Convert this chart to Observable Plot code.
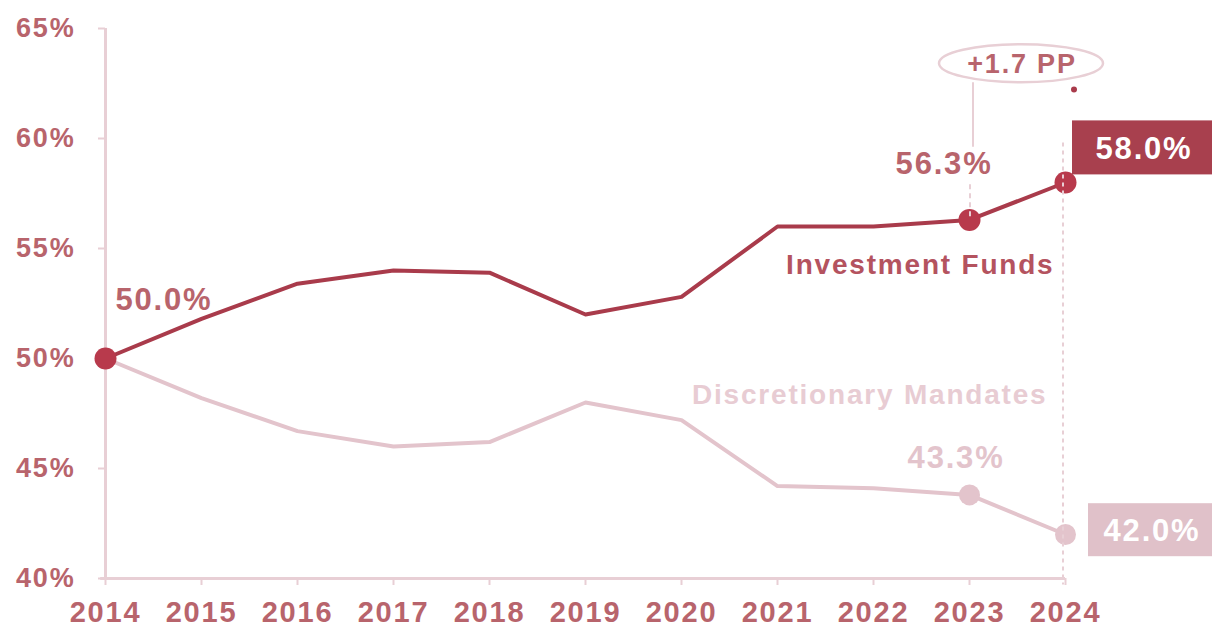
<!DOCTYPE html>
<html><head><meta charset="utf-8">
<script src="https://cdn.jsdelivr.net/npm/d3@7"></script>
<script src="https://cdn.jsdelivr.net/npm/@observablehq/plot@0.6"></script>
<style>
html,body{margin:0;padding:0;background:#fff;}
svg{font-family:"Liberation Sans",Arial,sans-serif;font-weight:bold;}
svg text{letter-spacing:1.8px;}
</style></head>
<body><div id="chart"></div>
<script>
const years = [2014,2015,2016,2017,2018,2019,2020,2021,2022,2023,2024];
const investmentFunds = [50.0,51.8,53.4,54.0,53.9,52.0,52.8,56.0,56.0,56.3,58.0];
const discretionaryMandates = [50.0,48.2,46.7,46.0,46.2,48.0,47.2,44.2,44.1,43.8,42.0];
const yTicks = [40,45,50,55,60,65];
const seriesNames = ["Investment Funds","Discretionary Mandates"];
const highlightYears = [2014,2023,2024];
const fundLabels = ["50.0%","56.3%","58.0%"];
const mandateLabels = ["43.3%","42.0%"];
const deltaLabel = "+1.7 PP";

const DARK = "#a93b4b", LIGHT = "#e3c4cc", AXIS = "#e8cfd5", TXT = "#b8646c";

const fund = years.map((y,i)=>({year:y, v:investmentFunds[i]}));
const mand = years.map((y,i)=>({year:y, v:discretionaryMandates[i]}));
const fundHi = fund.filter(d=>highlightYears.includes(d.year));
const mandHi = mand.filter(d=>d.year>=2023);

const overlay = (index, {x, y}) => {
  const g = d3.create("svg:g");
  const x23 = x(2023), x24 = x(2024);
  // ellipse annotation
  const ecx = (x23+x24)/2 + 4, ecy = y(63.4);
  g.append("ellipse").attr("cx",ecx).attr("cy",ecy).attr("rx",82).attr("ry",19)
    .attr("fill","none").attr("stroke",AXIS).attr("stroke-width",2.5);
  g.append("text").attr("x",ecx+1).attr("y",ecy).attr("dy","0.36em").attr("text-anchor","middle")
    .attr("fill",TXT).attr("font-size",27).text(deltaLabel);
  g.append("line").attr("x1",x23+4).attr("x2",x23+4).attr("y1",ecy+19).attr("y2",y(59.6))
    .attr("stroke",AXIS).attr("stroke-width",2);
  // 2023 dashed (label to point)
  g.append("line").attr("x1",x23+1).attr("x2",x23+1).attr("y1",y(57.9)).attr("y2",y(56.3))
    .attr("stroke",AXIS).attr("stroke-width",2).attr("stroke-dasharray","5,4");
  // 2024 dotted
  g.append("line").attr("x1",x24-2).attr("x2",x24-2).attr("y1",y(59.8)).attr("y2",y(39.7))
    .attr("stroke",AXIS).attr("stroke-width",2).attr("stroke-dasharray","4,4");
  g.append("circle").attr("cx",x24+9).attr("cy",y(62.2)).attr("r",3).attr("fill",DARK);
  // value boxes
  const bx = x24+7;
  g.append("rect").attr("x",bx).attr("y",y(60.8)).attr("width",150).attr("height",54).attr("fill","#a8404e");
  g.append("text").attr("x",bx+72).attr("y",y(60.8)+27).attr("dy","0.36em").attr("text-anchor","middle")
    .attr("fill","#fff").attr("font-size",31).text(fundLabels[2]);
  g.append("rect").attr("x",bx+16).attr("y",y(43.4)).attr("width",140).attr("height",53).attr("fill","#e0c1c9");
  g.append("text").attr("x",bx+16+64).attr("y",y(43.4)+27).attr("dy","0.36em").attr("text-anchor","middle")
    .attr("fill","#fff").attr("font-size",31).text(mandateLabels[1]);
  return g.node();
};

const chart = Plot.plot({
  width: 1212, height: 628,
  marginLeft: 105, marginRight: 147, marginTop: 28, marginBottom: 50,
  x: {domain:[2014,2024], type:"linear", label:null},
  y: {domain:[40,65], label:null},
  style: {background:"#fff", overflow:"visible"},
  marks: [
    Plot.ruleX([2014], {y1:40, y2:65, stroke:AXIS, strokeWidth:3}),
    Plot.ruleY([40], {x1:2013.95, x2:2024, stroke:AXIS, strokeWidth:3}),
    Plot.axisY({ticks:yTicks, tickSize:7, tickFormat:()=>"", stroke:AXIS, strokeWidth:2, label:null}),
    Plot.axisY({ticks:yTicks, tickSize:0, tickPadding:30, tickFormat:d=>d+"%", fill:TXT, fontSize:27, fontWeight:"bold", label:null}),
    Plot.axisX({ticks:years, tickSize:7, tickFormat:()=>"", stroke:AXIS, strokeWidth:2, label:null}),
    Plot.axisX({ticks:years, tickSize:0, tickPadding:23, tickFormat:d=>String(d), fill:TXT, fontSize:29, fontWeight:"bold", label:null}),
    Plot.line(mand, {x:"year", y:"v", stroke:LIGHT, strokeWidth:4}),
    Plot.line(fund, {x:"year", y:"v", stroke:DARK, strokeWidth:4}),
    Plot.dot(mandHi, {x:"year", y:"v", r:10.5, fill:LIGHT}),
    Plot.dot(fundHi, {x:"year", y:"v", r:11, fill:"#b83a4c"}),
    Plot.text([fundHi[0]], {x:"year", y:"v", text:()=>fundLabels[0], dx:10, dy:-58, textAnchor:"start", fill:TXT, fontSize:31, fontWeight:"bold"}),
    Plot.text([fundHi[1]], {x:"year", y:"v", text:()=>fundLabels[1], dx:23, dy:-56, textAnchor:"end", fill:TXT, fontSize:31, fontWeight:"bold"}),
    Plot.text([mand[9]], {x:"year", y:"v", text:()=>mandateLabels[0], dx:35, dy:-37, textAnchor:"end", fill:LIGHT, fontSize:31, fontWeight:"bold"}),
    Plot.text([fund[10]], {x:"year", y:"v", text:()=>seriesNames[0], dx:-11, dy:83, textAnchor:"end", fill:"#b4535f", fontSize:28, fontWeight:"bold"}),
    Plot.text([mand[10]], {x:"year", y:"v", text:()=>seriesNames[1], dx:-18, dy:-139, textAnchor:"end", fill:"#e8ccd3", fontSize:28, fontWeight:"bold"}),
    overlay
  ]
});
document.getElementById("chart").appendChild(chart);
</script></body></html>
